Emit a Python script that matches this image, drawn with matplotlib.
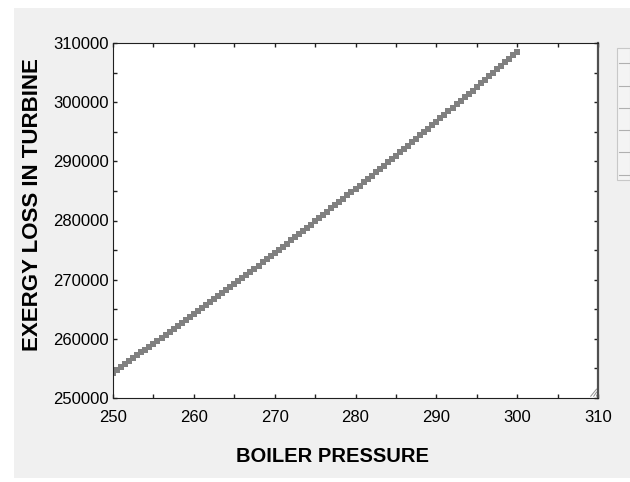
import numpy as np
import matplotlib.pyplot as plt
from matplotlib.patches import Rectangle
from matplotlib.lines import Line2D

# boiler pressure (0.5 steps) and exergy loss
pressure = [250 + 0.5 * i for i in range(101)]
exergy_loss = [
    254300, 254781, 255263, 255746, 256230, 256716, 257203, 257691, 258180, 258671,
    259163, 259656, 260150, 260646, 261143, 261641, 262140, 262641, 263143, 263646,
    264150, 264656, 265163, 265671, 266180, 266691, 267203, 267716, 268230, 268746,
    269263, 269781, 270300, 270821, 271343, 271866, 272390, 272916, 273443, 273971,
    274500, 275031, 275563, 276096, 276630, 277166, 277703, 278241, 278780, 279321,
    279863, 280406, 280950, 281496, 282043, 282591, 283140, 283691, 284243, 284796,
    285350, 285906, 286463, 287021, 287580, 288141, 288703, 289266, 289830, 290396,
    290963, 291531, 292100, 292671, 293243, 293816, 294390, 294966, 295543, 296121,
    296700, 297281, 297863, 298446, 299030, 299616, 300203, 300791, 301380, 301971,
    302563, 303156, 303750, 304346, 304943, 305541, 306140, 306741, 307343, 307946,
    308550,
]
xticks = [250, 260, 270, 280, 290, 300, 310]
yticks = [250000, 260000, 270000, 280000, 290000, 300000, 310000]

plt.rcParams['font.family'] = ['Liberation Sans', 'DejaVu Sans']

W, H = 630, 482
fig = plt.figure(figsize=(W / 100, H / 100), dpi=100, facecolor='white')

# grey window panel behind the plot
fig.add_artist(Rectangle((14 / W, 4 / H), 1 - 14 / W, 1 - 12 / H,
                         transform=fig.transFigure, facecolor='#f0f0f0',
                         edgecolor='none', zorder=-2))
# bit of side toolbar on the right
fig.add_artist(Rectangle((617 / W, 1 - 180 / H), 13 / W, 132 / H,
                         transform=fig.transFigure, facecolor='#f4f4f4',
                         edgecolor='#c8c8c8', lw=0.8, zorder=-1))
for yy in [63, 86, 108, 130, 152, 175]:
    fig.add_artist(Line2D([619 / W, 1], [1 - yy / H, 1 - yy / H],
                          transform=fig.transFigure, color='#b0b0b0', lw=0.8,
                          zorder=-1))

ax = fig.add_axes([113 / W, 1 - 398 / H, 485 / W, 355 / H])
ax.set_zorder(1)
ax.set_facecolor('white')
ax.plot(pressure, exergy_loss, 's', color='#808080', markersize=4.8,
        markeredgewidth=0, clip_on=True)

ax.set_xlim(250, 310)
ax.set_ylim(250000, 310000)
ax.set_xticks(xticks)
ax.set_yticks(yticks)
ax.set_xticks(np.arange(255, 310, 10), minor=True)
ax.set_yticks(np.arange(255000, 310000, 10000), minor=True)
ax.tick_params(which='both', direction='in', top=True, right=True,
               length=3, width=1, color='#202020', labelsize=12)
ax.tick_params(axis='x', pad=9)
ax.tick_params(axis='y', pad=3)
for s in ['left', 'bottom', 'top']:
    ax.spines[s].set_color('#202020')
ax.spines['right'].set_color('#505050')
ax.spines['right'].set_linewidth(1.6)

ax.set_xlabel('BOILER PRESSURE', fontsize=14.5, fontweight='bold')
ax.set_ylabel('EXERGY LOSS IN TURBINE', fontsize=16, fontweight='bold')
# labels sit a bit off-centre in the original
ax.xaxis.set_label_coords(0.4526, -0.138)
ax.yaxis.set_label_coords(-0.144, 0.546)

# resize grip in the corner
for k in range(3):
    off = 3 * k
    ax.plot([0.985 + off / 485, 0.997], [0.005, 0.025 - off / 355],
            transform=ax.transAxes, color='#909090', lw=0.7)

fig.savefig('out.png', dpi=100, facecolor='white')
